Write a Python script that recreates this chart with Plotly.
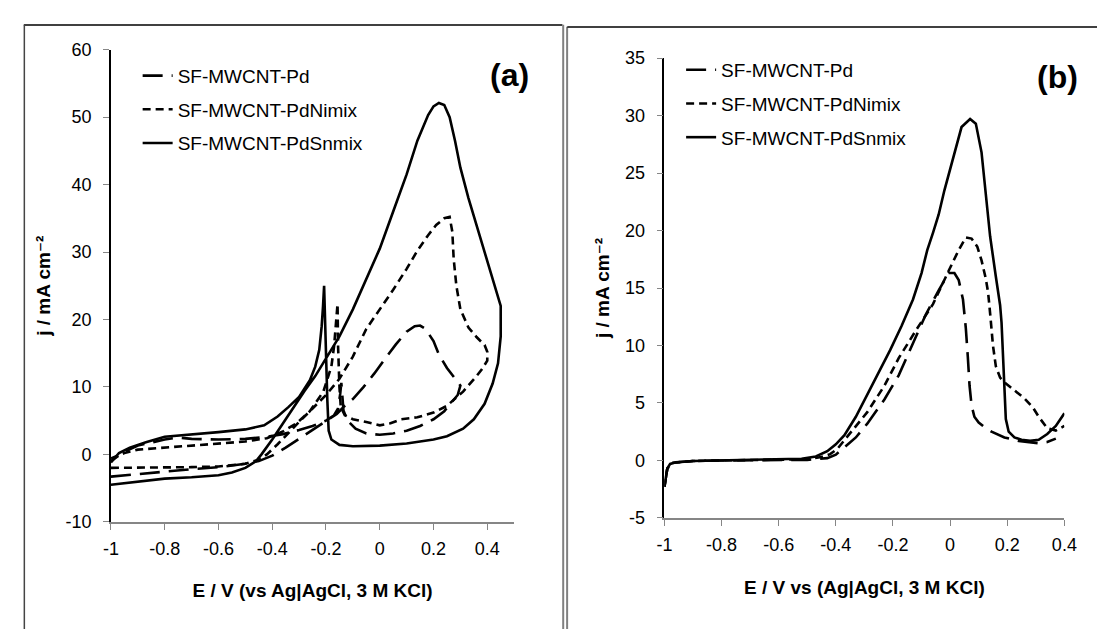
import plotly.graph_objects as go

W, H = 1105, 631

# ---------------- data: panel (a) cyclic voltammograms ----------------
a_pd_E = [-1.00, -0.90, -0.80, -0.70, -0.60, -0.50, -0.45, -0.40, -0.35, -0.30, -0.25, -0.20, -0.16, -0.13,
          -0.10, -0.06, -0.02, 0.02, 0.06, 0.10, 0.13, 0.15, 0.17, 0.20, 0.22, 0.25, 0.28, 0.30,
          0.29, 0.27, 0.24, 0.20, 0.15, 0.10, 0.05, 0.00, -0.05, -0.09, -0.12, -0.135, -0.14, -0.143,
          -0.147, -0.155, -0.17, -0.20, -0.25, -0.30, -0.36, -0.42, -0.50, -0.60, -0.70, -0.75, -0.80,
          -0.90, -0.95, -1.00]
a_pd_j = [-3.3, -2.9, -2.5, -2.2, -1.9, -1.4, -1.0, -0.2, 1.0, 2.3, 3.6, 4.9, 6.0, 7.2,
          8.2, 10.0, 12.0, 14.2, 16.3, 18.2, 19.0, 19.1, 18.6, 16.8, 14.8, 12.8, 11.2, 10.2,
          8.8, 7.8, 6.4, 5.2, 4.2, 3.5, 3.1, 2.9, 3.1, 3.8, 5.0, 6.5, 9.0, 10.6,
          9.0, 6.8, 5.8, 5.0, 4.2, 3.6, 3.0, 2.6, 2.3, 2.2, 2.3, 2.5, 2.2,
          1.3, 0.4, -1.0]

a_ni_E = [-1.00, -0.90, -0.80, -0.70, -0.60, -0.50, -0.45, -0.42, -0.38, -0.34, -0.30, -0.25, -0.20, -0.15,
          -0.10, -0.05, 0.00, 0.05, 0.10, 0.14, 0.18, 0.21, 0.24, 0.26, 0.27, 0.275, 0.285, 0.30, 0.33,
          0.36, 0.39, 0.40,
          0.40, 0.38, 0.36, 0.31, 0.25, 0.20, 0.14, 0.08, 0.04, 0.00, -0.05, -0.10, -0.13, -0.145, -0.15,
          -0.155, -0.157, -0.162, -0.17, -0.18, -0.21, -0.26, -0.31, -0.36, -0.42, -0.50, -0.60, -0.70,
          -0.80, -0.90, -0.95, -1.00]
a_ni_j = [-2.0, -2.0, -2.0, -1.9, -1.8, -1.4, -0.8, 0.0, 1.5, 3.2, 4.8, 6.8, 8.8, 11.2,
          14.5, 18.6, 21.5, 24.4, 27.5, 30.2, 32.5, 34.0, 35.0, 35.2, 33.0, 29.0, 25.0, 21.5, 18.8,
          17.4, 16.2, 15.2,
          13.9, 12.6, 11.6, 9.3, 7.2, 6.2, 5.5, 5.2, 4.6, 4.3, 4.8, 5.2, 5.8, 7.0, 10.0,
          16.0, 22.3, 19.5, 16.0, 13.0, 9.3, 6.4, 4.6, 3.4, 2.4, 1.9, 1.6, 1.3,
          1.0, 0.7, 0.2, -0.6]

a_sn_E = [-1.00, -0.90, -0.80, -0.70, -0.60, -0.55, -0.50, -0.46, -0.44, -0.40, -0.36, -0.32, -0.28, -0.24,
          -0.20, -0.15, -0.10, -0.05, 0.00, 0.05, 0.10, 0.14, 0.18, 0.20, 0.22, 0.24, 0.26, 0.28, 0.30,
          0.33, 0.36, 0.39, 0.41, 0.43, 0.45,
          0.45, 0.44, 0.42, 0.39, 0.35, 0.31, 0.25, 0.20, 0.10, 0.00, -0.10, -0.15, -0.18, -0.19, -0.195,
          -0.20, -0.204, -0.207, -0.211, -0.216, -0.225, -0.24, -0.26, -0.30, -0.34, -0.38, -0.43, -0.50,
          -0.60, -0.70, -0.80, -0.87, -0.93, -0.97, -1.00]
a_sn_j = [-4.5, -4.0, -3.6, -3.4, -3.1, -2.7, -2.0, -1.0, 0.0, 2.2, 4.6, 7.2, 9.4, 11.6,
          14.3, 17.5, 21.5, 26.0, 30.5, 36.0, 41.5, 46.5, 50.3, 51.6, 52.1, 51.8, 50.0, 46.5, 42.5,
          38.0, 34.0, 30.0, 27.5, 25.0, 22.0,
          17.5, 13.5, 10.5, 7.5, 5.2, 3.8, 2.7, 2.2, 1.6, 1.3, 1.2, 1.4, 2.2, 3.5, 8.0,
          16.0, 23.0, 25.0, 22.0, 19.0, 15.5, 13.0, 11.0, 8.5, 7.0, 5.6, 4.3, 3.7,
          3.3, 3.0, 2.6, 1.8, 1.0, 0.2, -1.2]

# ---------------- data: panel (b) linear sweeps ----------------
b_pd_E = [-1.00, -0.99, -0.97, -0.90, -0.80, -0.60, -0.50, -0.43, -0.40, -0.37, -0.33, -0.29, -0.23, -0.18,
          -0.13, -0.085, -0.04, -0.005, 0.015, 0.03, 0.045, 0.055, 0.062, 0.068, 0.075, 0.085, 0.10,
          0.12, 0.145, 0.19, 0.24, 0.28, 0.31, 0.34, 0.37]
b_pd_j = [-2.3, -0.7, -0.2, -0.05, 0.0, 0.02, 0.05, 0.2, 0.5, 1.15, 2.0, 3.2, 5.3, 7.4,
          10.2, 12.7, 14.8, 16.3, 16.3, 15.7, 14.0, 11.5, 9.0, 6.5, 4.8, 3.8, 3.3,
          2.9, 2.5, 2.0, 1.7, 1.55, 1.5, 1.6, 1.9]

b_ni_E = [-1.00, -0.99, -0.97, -0.90, -0.80, -0.60, -0.50, -0.45, -0.42, -0.395, -0.35, -0.29, -0.23, -0.18,
          -0.12, -0.06, -0.005, 0.03, 0.055, 0.075, 0.095, 0.11, 0.125, 0.133, 0.14, 0.15, 0.16, 0.175,
          0.19, 0.22, 0.26, 0.29, 0.31, 0.34, 0.37, 0.40]
b_ni_j = [-2.3, -0.7, -0.2, -0.05, 0.0, 0.03, 0.1, 0.3, 0.55, 1.0, 2.4, 4.2, 6.5, 8.9,
          11.3, 13.6, 16.5, 18.3, 19.4, 19.3, 18.6, 17.4, 15.8, 14.6, 12.8, 10.0, 8.2, 7.2,
          6.8, 6.2, 5.4, 4.6, 3.8, 2.8, 2.6, 3.0]

b_sn_E = [-1.00, -0.995, -0.99, -0.98, -0.96, -0.90, -0.80, -0.70, -0.60, -0.52, -0.47, -0.43, -0.40, -0.37,
          -0.33, -0.29, -0.25, -0.21, -0.17, -0.13, -0.10, -0.08, -0.06, -0.04, -0.02, 0.00, 0.02, 0.04,
          0.07, 0.09, 0.11, 0.125, 0.14, 0.16, 0.175, 0.18, 0.185, 0.19, 0.195, 0.205, 0.225, 0.25, 0.28,
          0.31, 0.34, 0.37, 0.40]
b_sn_j = [-2.3, -1.3, -0.7, -0.3, -0.15, -0.05, 0.0, 0.0, 0.05, 0.15, 0.35, 0.8, 1.4, 2.2,
          3.8, 5.7, 7.6, 9.6, 11.7, 14.0, 16.3, 18.3, 19.8, 21.4, 23.5, 25.3, 27.3, 29.0,
          29.7, 29.3, 26.8, 23.0, 19.5, 16.0, 13.5, 12.0, 9.0, 6.2, 3.6, 2.5, 2.0, 1.8, 1.7,
          1.8, 2.3, 3.0, 4.1]

names = ["SF-MWCNT-Pd", "SF-MWCNT-PdNimix", "SF-MWCNT-PdSnmix"]
x_ticks_a = [-1, -0.8, -0.6, -0.4, -0.2, 0, 0.2, 0.4]
x_ticktext_a = ["-1", "-0.8", "-0.6", "-0.4", "-0.2", "0", "0.2", "0.4"]
y_ticks_a = [-10, 0, 10, 20, 30, 40, 50, 60]
y_ticktext_a = ["-10", "0", "10", "20", "30", "40", "50", "60"]
x_ticks_b = [-1, -0.8, -0.6, -0.4, -0.2, 0, 0.2, 0.4]
x_ticktext_b = ["-1", "-0.8", "-0.6", "-0.4", "-0.2", "0", "0.2", "0.4"]
y_ticks_b = [-5, 0, 5, 10, 15, 20, 25, 30, 35]
y_ticktext_b = ["-5", "0", "5", "10", "15", "20", "25", "30", "35"]

FONT = "Arial, 'Liberation Sans', 'DejaVu Sans', sans-serif"
dashes = ["20px,9px", "8px,5px", "solid"]

fig = go.Figure()
for i, (E, j) in enumerate([(a_pd_E, a_pd_j), (a_ni_E, a_ni_j), (a_sn_E, a_sn_j)]):
    fig.add_trace(go.Scatter(x=E, y=j, mode="lines", name=names[i],
                             line=dict(color="black", width=2.6, dash=dashes[i]),
                             xaxis="x", yaxis="y", legend="legend", legendgroup="a%d" % i))
for i, (E, j) in enumerate([(b_pd_E, b_pd_j), (b_ni_E, b_ni_j), (b_sn_E, b_sn_j)]):
    fig.add_trace(go.Scatter(x=E, y=j, mode="lines", name=names[i],
                             line=dict(color="black", width=2.6, dash=dashes[i]),
                             xaxis="x2", yaxis="y2", legend="legend2", legendgroup="b%d" % i))


def px(p):
    return p / W


def py(p):
    return 1 - p / H


axis_common = dict(showgrid=False, zeroline=False, showline=True, ticks="outside",
                   ticklen=6, tickwidth=1, tickcolor="#868686",
                   tickfont=dict(family=FONT, size=18, color="black"))
title_font = dict(family=FONT, size=19, color="black", weight="bold")

fig.update_layout(
    width=W, height=H, autosize=False,
    margin=dict(l=0, r=0, t=0, b=0),
    paper_bgcolor="white", plot_bgcolor="white",
    font=dict(family=FONT, size=18, color="black"),
    xaxis=dict(domain=[px(96.8), px(507.8)], range=[-1, 0.5], anchor="y",
               tickvals=x_ticks_a, ticktext=x_ticktext_a, linecolor="#868686", linewidth=1.5,
               ticklabelstandoff=4,
               title=dict(text="E / V (vs Ag|AgCl, 3 M KCl)", font=title_font, standoff=26),
               **axis_common),
    yaxis=dict(domain=[py(520.3), py(32.7)], range=[-10, 60], anchor="x",
               tickvals=y_ticks_a, ticktext=y_ticktext_a, linecolor="black", linewidth=1.5,
               ticklabelstandoff=8,
               title=dict(text="j / mA cm\u207b\u00b2", font=title_font, standoff=10),
               **axis_common),
    xaxis2=dict(domain=[px(661), px(1068.7)], range=[-1, 0.4], anchor="y2",
                tickvals=x_ticks_b, ticktext=x_ticktext_b, linecolor="#868686", linewidth=1.5,
                ticklabelstandoff=4,
                title=dict(text="E / V vs (Ag|AgCl, 3 M KCl)", font=title_font, standoff=26),
                **axis_common),
    yaxis2=dict(domain=[py(516.3), py(41.4)], range=[-5, 35], anchor="x2",
                tickvals=y_ticks_b, ticktext=y_ticktext_b, linecolor="black", linewidth=1.5,
                ticklabelstandoff=8,
                title=dict(text="j / mA cm\u207b\u00b2", font=title_font, standoff=10),
                **axis_common),
    legend=dict(x=px(124), y=py(40), xanchor="left", yanchor="top", traceorder="grouped",
                tracegroupgap=6, bgcolor="rgba(0,0,0,0)", font=dict(family=FONT, size=19, color="black")),
    legend2=dict(x=px(678), y=py(34), xanchor="left", yanchor="top", traceorder="grouped",
                 tracegroupgap=6, bgcolor="rgba(0,0,0,0)", font=dict(family=FONT, size=19, color="black")),
    annotations=[
        dict(text="(a)", x=px(503), y=py(59), xref="paper", yref="paper", showarrow=False,
             xanchor="center", yanchor="middle",
             font=dict(family=FONT, size=32, color="black", weight="bold")),
        dict(text="(b)", x=px(1062), y=py(61), xref="paper", yref="paper", showarrow=False,
             xanchor="center", yanchor="middle",
             font=dict(family=FONT, size=32, color="black", weight="bold")),
    ],
    shapes=[
        dict(type="line", xref="paper", yref="paper", x0=px(8), x1=px(557), y0=py(7.3), y1=py(7.3),
             line=dict(color="black", width=1.5)),
        dict(type="line", xref="paper", yref="paper", x0=px(8.5), x1=px(8.5), y0=py(7), y1=py(631),
             line=dict(color="#444444", width=1.5)),
        dict(type="line", xref="paper", yref="paper", x0=px(557.8), x1=px(557.8), y0=py(7), y1=py(631),
             line=dict(color="#808080", width=2)),
        dict(type="line", xref="paper", yref="paper", x0=px(561.8), x1=px(561.8), y0=py(9), y1=py(631),
             line=dict(color="#808080", width=2)),
        dict(type="line", xref="paper", yref="paper", x0=px(562), x1=px(1105), y0=py(9.3), y1=py(9.3),
             line=dict(color="black", width=1.5)),
    ],
)

fig.write_html("out.html")
